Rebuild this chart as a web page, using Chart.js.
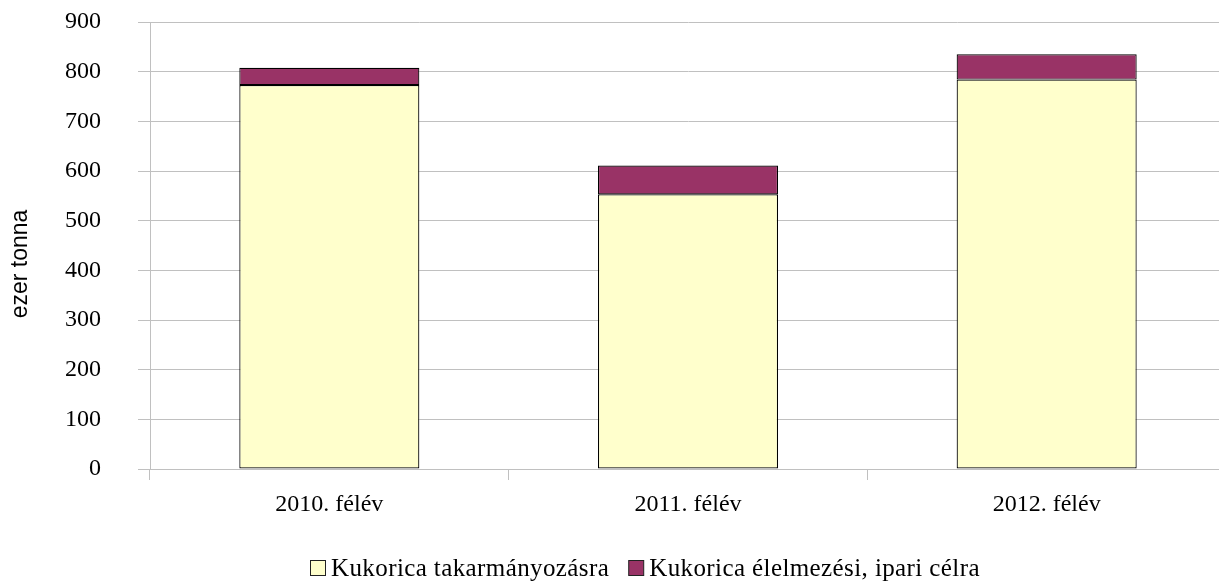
<!DOCTYPE html>
<html>
<head>
<meta charset="utf-8">
<script src="https://cdn.jsdelivr.net/npm/chart.js@4.4.1/dist/chart.umd.min.js"></script>
<style>
html, body { margin: 0; padding: 0; overflow: hidden; background: #fff; }
#wrap { width: 1230px; height: 581px; position: relative; }
</style>
</head>
<body>
<div id="wrap"><canvas id="c"></canvas></div>
<script>
const categories = ["2010. félév", "2011. félév", "2012. félév"];
const seriesNames = ["Kukorica takarmányozásra", "Kukorica élelmezési, ipari célra"];
const feedValues = [773, 553, 784];
const foodIndustryValues = [35, 58, 51];
const yTicks = [0, 100, 200, 300, 400, 500, 600, 700, 800, 900];
const yTitle = "ezer tonna";

const colors = ["#FFFFCC", "#993366"];
const serif = "'Liberation Serif', 'Times New Roman', serif";
const sans = "'Liberation Sans', Arial, sans-serif";
const gridColor = "#c0c0c0";

const extras = {
  id: 'extras',
  afterDraw(chart) {
    const ctx = chart.ctx;
    // y axis title
    ctx.save();
    ctx.fillStyle = '#000';
    ctx.font = "23px " + sans;
    ctx.textAlign = 'center';
    ctx.textBaseline = 'middle';
    ctx.translate(21, 264);
    ctx.rotate(-Math.PI / 2);
    ctx.fillText(yTitle, 0, 0);
    ctx.restore();
    // legend
    ctx.save();
    ctx.font = "25px " + serif;
    if ('letterSpacing' in ctx) ctx.letterSpacing = '0.4px';
    ctx.textBaseline = 'alphabetic';
    ctx.textAlign = 'left';
    const box = 15, gap = 6, spacing = 19;
    const ds = chart.data.datasets;
    let x = 310;
    const baseline = 576;
    ds.forEach((d) => {
      const w = ctx.measureText(d.label).width;
      ctx.fillStyle = d.backgroundColor;
      ctx.fillRect(x + 0.5, baseline - 15.5, box, box);
      ctx.strokeStyle = '#222';
      ctx.lineWidth = 1;
      ctx.strokeRect(x + 0.5, baseline - 15.5, box, box);
      ctx.fillStyle = '#000';
      ctx.fillText(d.label, x + box + gap, baseline);
      x += box + gap + w + spacing;
    });
    ctx.restore();
  }
};

new Chart(document.getElementById('c'), {
  type: 'bar',
  data: {
    labels: categories,
    datasets: [
      { label: seriesNames[0], data: feedValues, backgroundColor: colors[0], borderColor: '#000', borderWidth: 1.2, borderSkipped: false },
      { label: seriesNames[1], data: foodIndustryValues, backgroundColor: colors[1], borderColor: '#000', borderWidth: 1.2, borderSkipped: false }
    ]
  },
  options: {
    responsive: true,
    maintainAspectRatio: false,
    animation: false,
    layout: { padding: { top: 22, right: 4, left: 0, bottom: 52 } },
    plugins: { legend: { display: false }, tooltip: { enabled: false }, title: { display: false } },
    datasets: { bar: { categoryPercentage: 1, barPercentage: 0.502 } },
    scales: {
      x: {
        stacked: true,
        grid: { display: true, drawOnChartArea: false, drawTicks: true, tickLength: 11, color: gridColor, offset: true },
        border: { display: true, color: gridColor, width: 1 },
        ticks: { color: '#000', font: { family: serif, size: 24 }, padding: 10, maxRotation: 0 },
        afterFit(scale) { scale.height = 60; scale.paddingLeft = 0; scale.paddingRight = 0; }
      },
      y: {
        stacked: true,
        min: 0, max: 900,
        afterBuildTicks(scale) { scale.ticks = yTicks.map(v => ({ value: v })); },
        grid: { color: gridColor, drawTicks: true, tickLength: 12 },
        border: { display: true, color: gridColor, width: 1 },
        ticks: { color: '#000', font: { family: serif, size: 24 }, padding: 37 },
        afterFit(scale) { scale.width = 150; scale.paddingTop = 0; scale.paddingBottom = 0; }
      }
    }
  },
  plugins: [extras]
});
</script>
</body>
</html>
